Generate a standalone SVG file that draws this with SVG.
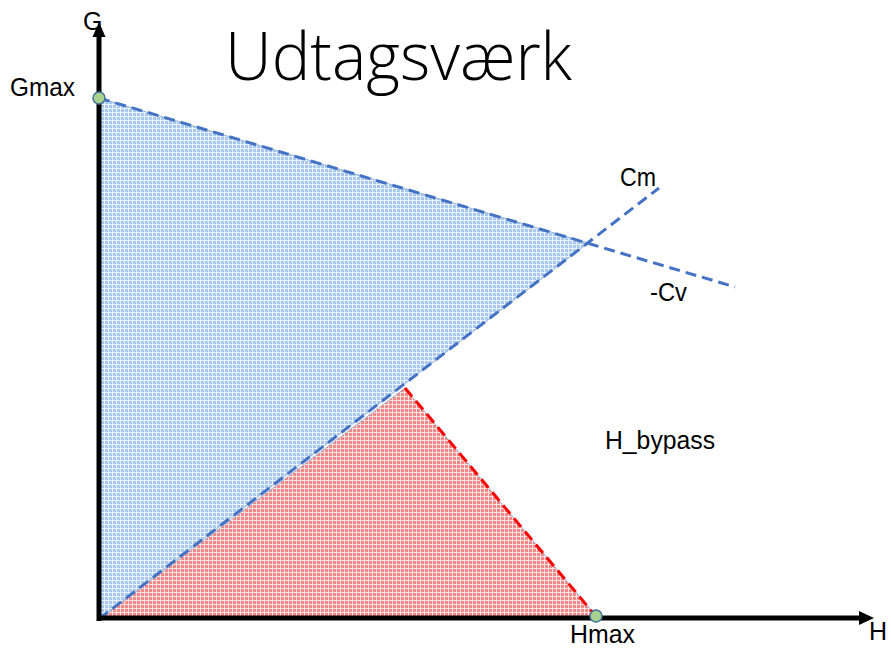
<svg xmlns="http://www.w3.org/2000/svg" width="891" height="648" viewBox="0 0 891 648">
  <style>
    .lbl { font-family: "Liberation Sans", "Open Sans", Arial, sans-serif; font-size: 25px; fill: #000; }
    .title { font-family: "Open Sans", "Liberation Sans", sans-serif; font-weight: 300; font-size: 66px; fill: #000; }
    .axis { stroke: #000; stroke-width: 5; fill: none; }
    .blueDash { stroke: #4472c4; stroke-width: 3; stroke-dasharray: 11 6; fill: none; }
    .redDash { stroke: #ff0000; stroke-width: 3; stroke-dasharray: 11 6; fill: none; }
    .pt { fill: #a9d18e; stroke: #41719c; stroke-width: 1.5; }
  </style>
  <defs>
    <pattern id="bluePat" width="4" height="4" patternUnits="userSpaceOnUse">
      <rect width="4" height="4" fill="#a8c8ee"/>
      <path d="M0 0.5H4M0.5 0V4" stroke="#fff" stroke-opacity="0.75" stroke-width="1"/>
    </pattern>
    <pattern id="redPat" width="4" height="4" patternUnits="userSpaceOnUse">
      <rect width="4" height="4" fill="#f38888"/>
      <path d="M0 0.5H4M0.5 0V4" stroke="#fff" stroke-opacity="0.75" stroke-width="1"/>
    </pattern>
  </defs>

  <rect width="891" height="648" fill="#fff"/>

  <g id="region-blue">
    <polygon points="99,98 588,243 99,619" fill="url(#bluePat)" stroke="#8fb0d8" stroke-width="1"/>
  </g>
  <g id="region-red">
    <polygon points="100,619 405,388 596,616" fill="url(#redPat)" stroke="#a0b4d0" stroke-width="1"/>
  </g>

  <g id="connectors">
    <line class="blueDash" x1="99" y1="98" x2="735" y2="287"/>
    <line class="blueDash" x1="99" y1="619" x2="659" y2="188"/>
    <line class="redDash" x1="405" y1="388" x2="594" y2="614"/>
  </g>

  <g id="axis-g">
    <line class="axis" x1="99" y1="621" x2="99" y2="36"/>
    <polygon points="99,22 92.5,37 105.5,37" fill="#000"/>
  </g>
  <g id="axis-h">
    <line class="axis" x1="97" y1="618" x2="861" y2="618"/>
    <polygon points="874,618 859,611 859,625" fill="#000"/>
  </g>

  <g id="point-gmax">
    <circle class="pt" cx="99" cy="98" r="6"/>
  </g>
  <g id="point-hmax">
    <circle class="pt" cx="596" cy="616" r="6"/>
  </g>

  <g id="labels">
    <text class="title" x="225" y="80" textLength="347" lengthAdjust="spacingAndGlyphs">Udtagsværk</text>
    <text class="lbl" x="83" y="30">G</text>
    <text class="lbl" x="10" y="96" textLength="65" lengthAdjust="spacingAndGlyphs">Gmax</text>
    <text class="lbl" x="620" y="186" textLength="36" lengthAdjust="spacingAndGlyphs">Cm</text>
    <text class="lbl" x="650" y="301" textLength="37" lengthAdjust="spacingAndGlyphs">-Cv</text>
    <text class="lbl" x="605" y="449" textLength="110" lengthAdjust="spacingAndGlyphs">H_bypass</text>
    <text class="lbl" x="570" y="643" textLength="65" lengthAdjust="spacingAndGlyphs">Hmax</text>
    <text class="lbl" x="869" y="640">H</text>
  </g>
</svg>
